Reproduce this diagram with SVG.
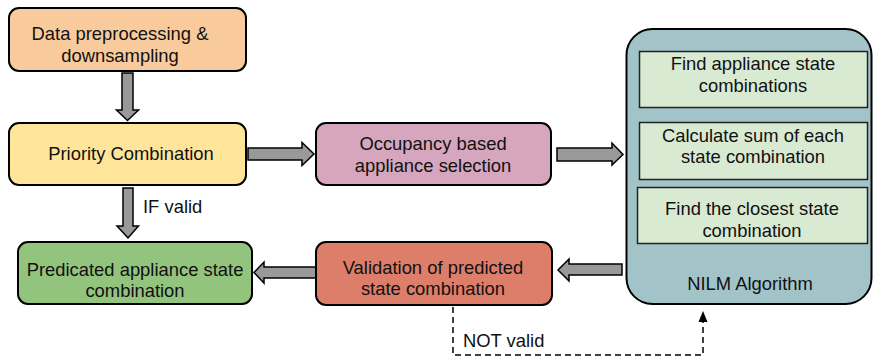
<svg xmlns="http://www.w3.org/2000/svg" width="873" height="358" viewBox="0 0 873 358">
<style>
.box{stroke:#000;stroke-width:2}
.inner{fill:#d9ead3;stroke:#222;stroke-width:1.5}
.t{font-family:"Liberation Sans",Arial,sans-serif;font-size:18.4px;fill:#111;text-anchor:middle}
.lbl{font-family:"Liberation Sans",Arial,sans-serif;font-size:18.4px;fill:#111}
.blk{fill:#999;stroke:#000;stroke-width:1.5;stroke-linejoin:miter}
.dash{fill:none;stroke:#000;stroke-width:1.5;stroke-dasharray:6 4}
</style>
<rect width="873" height="358" fill="#fff"/>
<g id="connectors">
<polygon class="blk" points="122,73 133,73 133,110 138.5,110 127.5,120.5 116.5,110 122,110"/>
<polygon class="blk" points="123,188 133,188 133,226 138.5,226 128,238 117,226 123,226"/>
<polygon class="blk" points="248,148 302,148 302,142.5 314,154 302,165.5 302,160 248,160"/>
<polygon class="blk" points="557,148 612,148 612,143 623,154.5 612,165 612,161 557,161"/>
<polygon class="blk" points="622,264 569,264 569,259 558,270 569,281 569,275 622,275"/>
<polygon class="blk" points="316,267 264,267 264,262 254,272.5 264,283 264,278 316,278"/>
<path class="dash" d="M453,307 V355 H703 V321"/>
<polygon points="703,311 707.5,322 698.5,322" fill="#000"/>
<text class="lbl" x="143" y="213">IF valid</text>
<text class="lbl" x="463" y="347">NOT valid</text>
</g>
<g id="data-preprocessing">
<rect class="box" x="9" y="8" width="237" height="63" rx="10" fill="#f9cb9c"/>
<text class="t" x="120" y="40">Data preprocessing &amp;</text>
<text class="t" x="120" y="62">downsampling</text>
</g>
<g id="priority-combination">
<rect class="box" x="9" y="123" width="237" height="62" rx="10" fill="#ffe599"/>
<text class="t" x="131" y="160">Priority Combination</text>
</g>
<g id="occupancy-selection">
<rect class="box" x="316" y="123" width="235" height="62" rx="10" fill="#d5a6bd"/>
<text class="t" x="433" y="150">Occupancy based</text>
<text class="t" x="433" y="172">appliance selection</text>
</g>
<g id="predicated-combination">
<rect class="box" x="18" y="242" width="234" height="62" rx="10" fill="#93c47d"/>
<text class="t" x="135" y="276">Predicated appliance state</text>
<text class="t" x="135" y="297">combination</text>
</g>
<g id="validation">
<rect class="box" x="316" y="242" width="236" height="63" rx="10" fill="#dd7e6b"/>
<text class="t" x="433" y="274">Validation of predicted</text>
<text class="t" x="433" y="295">state combination</text>
</g>
<g id="nilm-algorithm">
<rect class="box" x="626.5" y="29" width="245" height="275" rx="26" fill="#a2c4c9"/>
<text class="t" x="750" y="290">NILM Algorithm</text>
</g>
<g id="find-combinations">
<rect class="inner" x="639.5" y="51.5" width="228" height="56"/>
<text class="t" x="753" y="70">Find appliance state</text>
<text class="t" x="753" y="92">combinations</text>
</g>
<g id="calculate-sum">
<rect class="inner" x="639.5" y="122.5" width="228" height="57"/>
<text class="t" x="753" y="142">Calculate sum of each</text>
<text class="t" x="753" y="163">state combination</text>
</g>
<g id="closest-combination">
<rect class="inner" x="637.5" y="187.5" width="230" height="56"/>
<text class="t" x="752" y="215">Find the closest state</text>
<text class="t" x="752" y="237">combination</text>
</g>
</svg>
